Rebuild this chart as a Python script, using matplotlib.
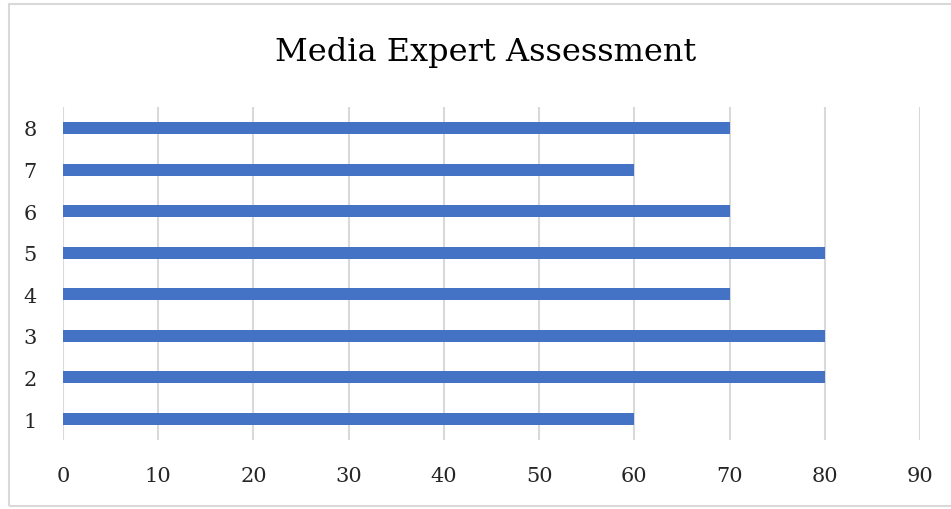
import matplotlib.pyplot as plt
from matplotlib.patches import Rectangle

# Media expert scores per item
items = ['1', '2', '3', '4', '5', '6', '7', '8']
scores = [60, 80, 80, 70, 80, 70, 60, 70]
x_ticks = [0, 10, 20, 30, 40, 50, 60, 70, 80, 90]

plt.rcParams['font.family'] = ['DejaVu Serif']

fig = plt.figure(figsize=(9.51, 5.10), dpi=100)
ax = fig.add_axes([63 / 951, 69.2 / 510, 857 / 951, 332.6 / 510])

pos = list(range(1, len(items) + 1))
ax.barh(pos, scores, height=0.29, color='#4472c4', zorder=3)

ax.set_xlim(0, 90)
ax.set_ylim(0.5, len(items) + 0.5)
ax.set_xticks(x_ticks)
ax.set_xticklabels([str(t) for t in x_ticks], fontsize=15, color='#262626')
ax.set_yticks(pos)
ax.set_yticklabels(items, fontsize=15, color='#262626')
ax.tick_params(length=0)
ax.tick_params(axis='x', pad=19)
ax.tick_params(axis='y', pad=19)
ax.grid(axis='x', color='#d9d9d9', linewidth=1.5, zorder=0)
for s in ax.spines.values():
    s.set_visible(False)

fig.text(486 / 951, 1 - 53 / 510, 'Media Expert Assessment', ha='center', va='center',
         fontsize=23, color='#000000')

# light border around the chart area
fig.patches.append(Rectangle((9 / 951, 3 / 510), 950 / 951, 502 / 510, transform=fig.transFigure,
                             fill=False, edgecolor='#d9d9d9', linewidth=1.5))

fig.savefig('out.png', dpi=100)
